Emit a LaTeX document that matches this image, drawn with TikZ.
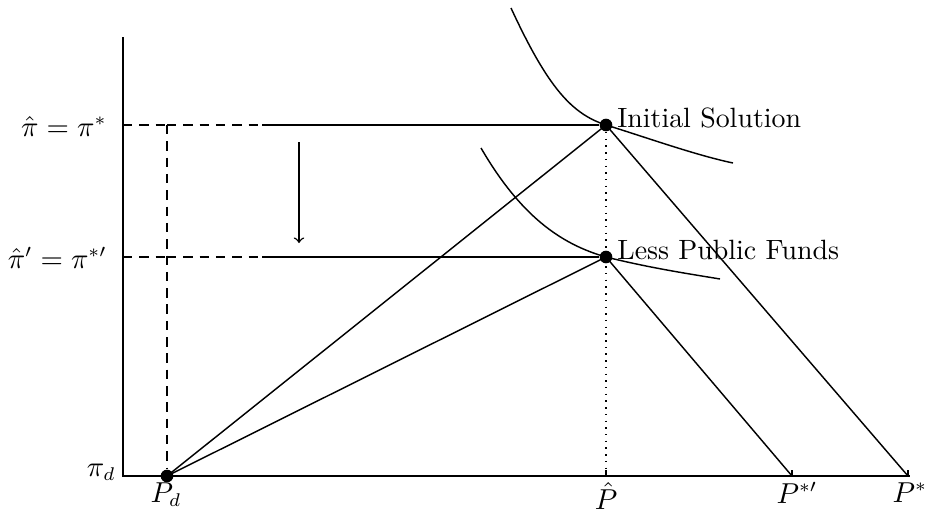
\documentclass[tikz,border=0pt]{standalone}
\begin{document}
\begin{tikzpicture}[x=0.38pt,y=-0.38pt,line width=0.55pt,
  dot/.style={circle,fill=black,inner sep=0pt,minimum size=4.8pt},
  lbl/.style={inner sep=1pt,font=\fontsize{10.6}{12.7}\selectfont},
  tickmark/.style={line width=0.5pt},
  guide/.style={dash pattern=on 3.6pt off 2.6pt}]
\useasboundingbox (0,0) rectangle (927,516);
% axes
\coordinate (O) at (123,476);
\coordinate (Ytop) at (123,37);
\coordinate (Xend) at (910,476);
\draw (Ytop) -- (O) -- (Xend);
% key points
\node[dot] (Pd) at (167,476) {};
\node[dot] (S1) at (606,125) {};
\node[dot] (S2) at (606,257) {};
\coordinate (Ps2) at (792,476);
\coordinate (Ps1) at (908,476);
\coordinate (Ph) at (606,476);
\coordinate (Y1) at (123,125);
\coordinate (Y2) at (123,257);
\coordinate (D1) at (167,125);
\coordinate (M1) at (262,125);
\coordinate (M2) at (262,257);
% ticks
\draw[tickmark] (Y1) -- ++(6,0);
\draw[tickmark] (Y2) -- ++(6,0);
\draw[tickmark] (Ph) -- ++(0,-6);
\draw[tickmark] (Ps2) -- ++(0,-6);
\draw[tickmark] (Ps1) -- ++(0,-6);
% dashed guides
\draw[guide] (167,125) -- (M1);
\draw[guide] (167,257) -- (M2);
\draw[guide] (Y1) -- (167,125);
\draw[guide] (Y2) -- (167,257);
\draw[guide] (D1) -- (Pd);
\draw (M1) -- (S1);
\draw (M2) -- (S2);
\draw[dotted] (S1) -- (Ph);
% lines
\draw (Pd.center) -- (S1.center) -- (Ps1);
\draw (Pd.center) -- (S2.center) -- (Ps2);
% curves
\draw (511,8) .. controls (548,88) and (572,114) .. (S1.center) .. controls (645,137) and (695,155) .. (733,163);
\draw (481,148) .. controls (520,215) and (560,244) .. (S2.center) .. controls (650,268) and (690,274) .. (720,279);
% arrow
\coordinate (A1) at (299,142);
\coordinate (A2) at (299,243);
\draw[->] (A1) -- (A2);
% labels
\node[lbl,anchor=west] (L1) at (614,118) {Initial Solution};
\node[lbl,anchor=west] (L2) at (614,250) {Less Public Funds};
\node[lbl,anchor=east] (Ya) at (110,126) {$\hat\pi=\pi^{*}$};
\node[lbl,anchor=east] (Yb) at (110,258) {$\hat\pi'=\pi^{*\prime}$};
\node[lbl,anchor=east] (Yc) at (119,472) {$\pi_d$};
\node[lbl,anchor=north] (Xa) at (166,479) {$P_d$};
\node[lbl,anchor=north] (Xb) at (606,479) {$\hat P$};
\node[lbl,anchor=north] (Xc) at (797,479) {$P^{*\prime}$};
\node[lbl,anchor=north] (Xd) at (910,479) {$P^{*}$};
\end{tikzpicture}
\end{document}
